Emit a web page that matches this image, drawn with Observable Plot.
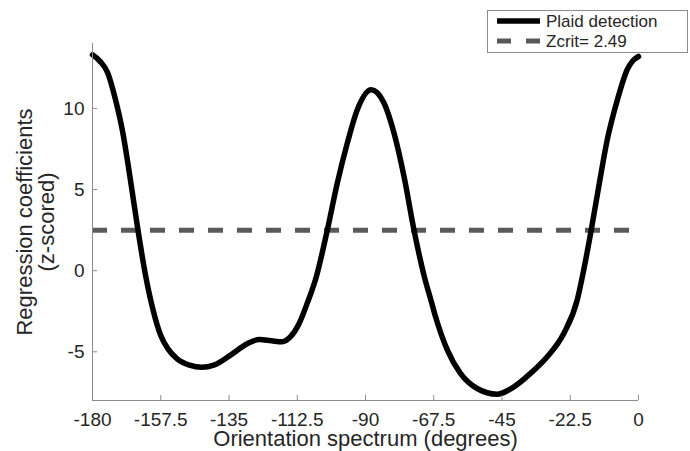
<!DOCTYPE html>
<html>
<head>
<meta charset="utf-8">
<script src="https://cdn.jsdelivr.net/npm/d3@7"></script>
<script src="https://cdn.jsdelivr.net/npm/@observablehq/plot@0.6"></script>
<style>
  body { margin: 0; background: #fff; }
  #wrap { position: relative; width: 690px; height: 451px; font-family: "Liberation Sans", Arial, sans-serif; }
  #legend { position: absolute; left: 487px; top: 10px; }
</style>
</head>
<body>
<div id="wrap"><div id="chart"></div><div id="legend"></div></div>
<script>
// Orientation (degrees) and z-scored regression coefficients
const orientation = [-180, -177.5, -175, -172.5, -170, -167.5, -165, -162.5, -160, -157.5, -155, -152, -148, -144, -140, -134.5, -129, -125, -121, -117.5, -114.7, -112, -109.2, -106.4, -102.6, -99.3, -96, -92.7, -88.1, -83.9, -80.6, -77.3, -74, -70.7, -68.3, -66.9, -63, -58.7, -53.2, -46.6, -41.1, -35.6, -30.1, -24.6, -20.2, -18, -15.6, -13.1, -10.3, -7, -3.7, -1.8, 0];
const zscore = [13.3, 12.9, 12.2, 10.6, 8.5, 5.6, 2.49, -0.3, -2.45, -4.0, -4.85, -5.45, -5.82, -5.95, -5.82, -5.2, -4.5, -4.24, -4.32, -4.38, -4.07, -3.3, -2.0, -0.5, 2.49, 5.4, 7.86, 9.92, 11.15, 10.33, 8.48, 5.8, 2.49, -0.3, -1.9, -2.84, -4.9, -6.33, -7.26, -7.61, -7.16, -6.33, -5.31, -3.86, -1.81, 0.1, 2.49, 5.19, 8.07, 10.5, 12.4, 12.95, 13.2];
const zcrit = 2.49;
const xTicks = [-180, -157.5, -135, -112.5, -90, -67.5, -45, -22.5, 0];
const yTicks = [-5, 0, 5, 10];
const xDomain = [-180, 0];
const yDomain = [-8, 14];
const seriesNames = ["Plaid detection", "Zcrit= 2.49"];
const xLabel = "Orientation spectrum (degrees)";
const yLabelLines = ["Regression coefficients", "(z-scored)"];

const data = orientation.map((x, i) => ({x, y: zscore[i]}));
const axisColor = "#8c8c8c";
const textColor = "#262626";

const chart = Plot.plot({
  width: 690,
  height: 451,
  marginLeft: 92,
  marginRight: 52,
  marginTop: 43,
  marginBottom: 51,
  style: {fontFamily: '"Liberation Sans", Arial, sans-serif', fontSize: "19px", color: textColor, background: "#fff", overflow: "visible"},
  x: {domain: xDomain},
  y: {domain: yDomain},
  marks: [
    Plot.ruleY([zcrit], {stroke: "#595959", strokeWidth: 5, strokeDasharray: "15,14"}),
    Plot.line(data, {x: "x", y: "y", stroke: "#000", strokeWidth: 5.5, curve: "monotone-x"}),
    Plot.ruleX([xDomain[0]], {stroke: axisColor, strokeWidth: 1}),
    Plot.ruleY([yDomain[0]], {stroke: axisColor, strokeWidth: 1}),
    Plot.axisX(xTicks, {tickSize: -5, tickPadding: 16.7, tickFormat: d => String(d), stroke: axisColor, fill: textColor, label: null, fontSize: 19}),
    Plot.axisY(yTicks, {tickSize: -5, tickPadding: 13, tickFormat: d => String(d), stroke: axisColor, fill: textColor, label: null, fontSize: 19}),
    Plot.text([xLabel], {text: d => d, frameAnchor: "bottom", textAnchor: "middle", lineAnchor: "middle", dy: 38.7, fontSize: 22, fill: textColor}),
    Plot.text([yLabelLines[0]], {text: d => d, frameAnchor: "left", textAnchor: "middle", lineAnchor: "middle", rotate: -90, dx: -68, fontSize: 22, fill: textColor}),
    Plot.text([yLabelLines[1]], {text: d => d, frameAnchor: "left", textAnchor: "middle", lineAnchor: "middle", rotate: -90, dx: -46, fontSize: 22, fill: textColor})
  ]
});
document.getElementById("chart").appendChild(chart);

// Legend
const lg = d3.select("#legend").append("svg").attr("width", 201).attr("height", 43);
lg.append("rect").attr("x", 0.5).attr("y", 0.5).attr("width", 200).attr("height", 42)
  .attr("fill", "#fff").attr("stroke", axisColor);
const styles = [
  {stroke: "#000", width: 5.5, dash: null},
  {stroke: "#595959", width: 5, dash: "14,15"}
];
seriesNames.forEach((name, i) => {
  const yy = 11 + i * 20;
  lg.append("line").attr("x1", 10).attr("x2", 53).attr("y1", yy).attr("y2", yy)
    .attr("stroke", styles[i].stroke).attr("stroke-width", styles[i].width)
    .attr("stroke-dasharray", styles[i].dash);
  lg.append("text").attr("x", 59).attr("y", yy).attr("dy", "0.35em")
    .attr("font-family", '"Liberation Sans", Arial, sans-serif').attr("font-size", 17)
    .attr("fill", textColor).text(name);
});
</script>
</body>
</html>
